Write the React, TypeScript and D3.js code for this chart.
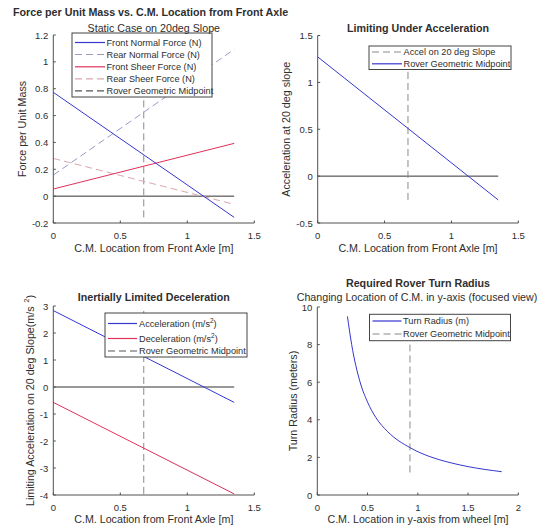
import React from "react";
import * as d3 from "d3";

// ---------- DATA ----------
const cmLoc = [0, 1.35];
const frontNormal = [0.773, -0.158];
const rearNormal = [0.157, 1.093];
const frontSheer = [0.053, 0.393];
const rearSheer = [0.281, -0.061];
const zeroLine = [0, 0];
const midpointX = 0.675;
const midRange1 = [-0.158, 1.093];

const accelUnder = [1.272, -0.254];
const midRange2 = [-0.254, 1.272];

const inertialAccel = [2.83, -0.57];
const inertialDecel = [-0.57, -3.96];
const midRange3 = [-3.96, 2.83];

const turnCM = [0.3, 0.342, 0.425, 0.5, 0.584, 0.7, 0.922, 1.12, 1.3, 1.5, 1.835];
const turnRadius = [9.5, 8.0, 6.02, 4.94, 4.11, 3.37, 2.52, 2.04, 1.75, 1.51, 1.24];
const turnMidX = 0.922;
const midRange4 = [1.2, 8.0];

const xTicks15 = [0, 0.5, 1, 1.5];
const xTicks2 = [0, 0.5, 1, 1.5, 2];
const yTicks1 = [-0.2, 0, 0.2, 0.4, 0.6, 0.8, 1, 1.2];
const yTicks2 = [-0.5, 0, 0.5, 1, 1.5];
const yTicks3 = [-4, -3, -2, -1, 0, 1, 2, 3];
const yTicks4 = [0, 2, 4, 6, 8, 10];

const legend1 = ["Front Normal Force (N)", "Rear Normal Force (N)", "Front Sheer Force (N)", "Rear Sheer Force (N)", "Rover Geometric Midpoint"];
const legend2 = ["Accel on 20 deg Slope", "Rover Geometric Midpoint"];
const legend4 = ["Turn Radius (m)", "Rover Geometric Midpoint"];

// ---------- STYLE ----------
const FONT = "'Liberation Sans', Arial, Helvetica, sans-serif";
const TXT = "#2e2e2e";
const AX = "#505050";
const BLUE = "#3636cf";
const RED = "#e0305c";
const BLUE_D = "#9a9ac8";
const PINK_D = "#d8a8b0";
const GRAY_D = "#8a8a8a";
const BLACK = "#333";
const DASH = "7,4";

type S = { x: number[]; y: number[]; color: string; dash?: string; w?: number };

function Panel(props: {
  left: number; right: number; top: number; bottom: number;
  xDomain: number[]; yDomain: number[]; xTicks: number[]; yTicks: number[];
  series: S[];
}) {
  const { left, right, top, bottom, xDomain, yDomain, xTicks, yTicks, series } = props;
  const xs = d3.scaleLinear().domain(xDomain).range([left, right]);
  const ys = d3.scaleLinear().domain(yDomain).range([bottom, top]);
  const line = d3.line<[number, number]>().x((d) => xs(d[0])).y((d) => ys(d[1])).curve(d3.curveMonotoneX);
  return (
    <g>
      {series.map((s, i) => (
        <path key={i} d={line(s.x.map((v, j) => [v, s.y[j]] as [number, number])) || ""}
          fill="none" stroke={s.color} strokeWidth={s.w ?? 1} strokeDasharray={s.dash} />
      ))}
      <line x1={left} x2={right} y1={bottom} y2={bottom} stroke={AX} strokeWidth={1} />
      <line x1={left} x2={left} y1={top} y2={bottom} stroke={AX} strokeWidth={1} />
      {xTicks.map((t) => (
        <g key={"x" + t}>
          <line x1={xs(t)} x2={xs(t)} y1={bottom} y2={bottom - 2.5} stroke={AX} />
          <text x={xs(t)} y={bottom + 12} textAnchor="middle" dominantBaseline="central"
            fontSize={9.5} fill={TXT} fontFamily={FONT}>{String(t)}</text>
        </g>
      ))}
      {yTicks.map((t) => (
        <g key={"y" + t}>
          <line x1={left} x2={left + 2.5} y1={ys(t)} y2={ys(t)} stroke={AX} />
          <text x={left - 5} y={ys(t)} textAnchor="end" dominantBaseline="central"
            fontSize={9.5} fill={TXT} fontFamily={FONT}>{String(t)}</text>
        </g>
      ))}
    </g>
  );
}

function Legend(props: {
  x: number; y: number; w: number; h: number; sx0: number; sx1: number; tx: number;
  entries: { label: React.ReactNode; color: string; dash?: string; y: number }[];
}) {
  const { x, y, w, h, sx0, sx1, tx, entries } = props;
  return (
    <g>
      <rect x={x} y={y} width={w} height={h} fill="#fff" stroke="#444" strokeWidth={1} />
      {entries.map((e, i) => (
        <g key={i}>
          <line x1={sx0} x2={sx1} y1={e.y} y2={e.y} stroke={e.color} strokeWidth={1.2} strokeDasharray={e.dash} />
          <text x={tx} y={e.y} dominantBaseline="central" fontSize={9.2} fill={TXT} fontFamily={FONT}>{e.label}</text>
        </g>
      ))}
    </g>
  );
}

function T(props: { x: number; y: number; children: React.ReactNode; bold?: boolean; anchor?: string; size?: number; rotate?: boolean }) {
  const { x, y, children, bold, anchor, size, rotate } = props;
  return (
    <text x={x} y={y} textAnchor={anchor ?? "middle"} dominantBaseline="central"
      fontSize={size ?? 10.7} fontWeight={bold ? "bold" : "normal"} fill={TXT} fontFamily={FONT}
      transform={rotate ? `rotate(-90 ${x} ${y})` : undefined}>{children}</text>
  );
}

export default function App() {
  const P1 = { left: 53.3, right: 254.3, top: 35, bottom: 223 };
  const P2 = { left: 317.7, right: 518.3, top: 35.5, bottom: 223 };
  const P3 = { left: 53.3, right: 254.3, top: 306, bottom: 495 };
  const P4 = { left: 317.3, right: 518.3, top: 307, bottom: 495 };
  const mx = [midpointX, midpointX];
  const cx1 = (P1.left + P1.right) / 2;
  const cx2 = (P2.left + P2.right) / 2;
  return (
    <svg width={539} height={530} style={{ position: "absolute", left: 0, top: 0, background: "#fff" }}>
      <rect width={539} height={530} fill="#fff" />
      {/* Panel 1 */}
      <Panel {...P1} xDomain={[0, 1.5]} yDomain={[-0.2, 1.2]} xTicks={xTicks15} yTicks={yTicks1}
        series={[
          { x: cmLoc, y: zeroLine, color: BLACK },
          { x: mx, y: midRange1, color: GRAY_D, dash: DASH },
          { x: cmLoc, y: rearSheer, color: PINK_D, dash: DASH },
          { x: cmLoc, y: rearNormal, color: BLUE_D, dash: DASH },
          { x: cmLoc, y: frontSheer, color: RED },
          { x: cmLoc, y: frontNormal, color: BLUE },
        ]} />
      <Legend x={72} y={33} w={140} h={64} sx0={75} sx1={105} tx={106.5}
        entries={[
          { label: legend1[0], color: BLUE, y: 42.5 },
          { label: legend1[1], color: BLUE_D, dash: DASH, y: 54.5 },
          { label: legend1[2], color: RED, y: 66.8 },
          { label: legend1[3], color: PINK_D, dash: DASH, y: 78.8 },
          { label: legend1[4], color: "#555", dash: DASH, y: 90.8 },
        ]} />
      <T x={13} y={12} bold anchor="start">Force per Unit Mass vs. C.M. Location from Front Axle</T>
      <T x={cx1} y={27.5}>Static Case on 20deg Slope</T>
      <T x={cx1} y={248}>C.M. Location from Front Axle [m]</T>
      <T x={22} y={(P1.top + P1.bottom) / 2} rotate>Force per Unit Mass</T>

      {/* Panel 2 */}
      <Panel {...P2} xDomain={[0, 1.5]} yDomain={[-0.5, 1.5]} xTicks={xTicks15} yTicks={yTicks2}
        series={[
          { x: cmLoc, y: zeroLine, color: BLACK },
          { x: mx, y: midRange2, color: GRAY_D, dash: DASH },
          { x: cmLoc, y: accelUnder, color: BLUE },
        ]} />
      <Legend x={369} y={46} w={142} h={23.5} sx0={372} sx1={402} tx={403.5}
        entries={[
          { label: legend2[0], color: GRAY_D, dash: DASH, y: 52 },
          { label: legend2[1], color: BLUE, y: 63.8 },
        ]} />
      <T x={cx2} y={28} bold>Limiting Under Acceleration</T>
      <T x={cx2} y={248}>C.M. Location from Front Axle [m]</T>
      <T x={286} y={(P2.top + P2.bottom) / 2} rotate>Acceleration at 20 deg slope</T>

      {/* Panel 3 */}
      <Panel {...P3} xDomain={[0, 1.5]} yDomain={[-4, 3]} xTicks={xTicks15} yTicks={yTicks3}
        series={[
          { x: cmLoc, y: zeroLine, color: BLACK },
          { x: mx, y: midRange3, color: GRAY_D, dash: DASH },
          { x: cmLoc, y: inertialAccel, color: BLUE },
          { x: cmLoc, y: inertialDecel, color: RED },
        ]} />
      <Legend x={105} y={313} w={142} h={44} sx0={108} sx1={137} tx={139}
        entries={[
          { label: <>Acceleration (m/s<tspan fontSize={6.5} dy={-4}>2</tspan><tspan dy={4}>)</tspan></>, color: BLUE, y: 323.5 },
          { label: <>Deceleration (m/s<tspan fontSize={6.5} dy={-4}>2</tspan><tspan dy={4}>)</tspan></>, color: RED, y: 338.5 },
          { label: "Rover Geometric Midpoint", color: "#555", dash: DASH, y: 351 },
        ]} />
      <T x={cx1} y={297} bold>Inertially Limited Deceleration</T>
      <T x={cx1} y={518.5}>C.M. Location from Front Axle [m]</T>
      <T x={30} y={(P3.top + P3.bottom) / 2} rotate>Limiting Acceleration on 20 deg Slope(m/s<tspan fontSize={7} dx={4} dy={-4}>2</tspan><tspan dy={4}>)</tspan></T>

      {/* Panel 4 */}
      <Panel {...P4} xDomain={[0, 2]} yDomain={[0, 10]} xTicks={xTicks2} yTicks={yTicks4}
        series={[
          { x: [turnMidX, turnMidX], y: midRange4, color: GRAY_D, dash: DASH },
          { x: turnCM, y: turnRadius, color: BLUE },
        ]} />
      <Legend x={369.5} y={314.3} w={141} h={26.4} sx0={372.5} sx1={401.5} tx={403}
        entries={[
          { label: legend4[0], color: BLUE, y: 321 },
          { label: legend4[1], color: GRAY_D, dash: DASH, y: 334 },
        ]} />
      <T x={418} y={283} bold>Required Rover Turn Radius</T>
      <T x={417} y={297}>Changing Location of C.M. in y-axis (focused view)</T>
      <T x={418} y={518.5}>C.M. Location in y-axis from wheel [m]</T>
      <T x={293} y={(P4.top + P4.bottom) / 2} rotate>Turn Radius (meters)</T>
    </svg>
  );
}
